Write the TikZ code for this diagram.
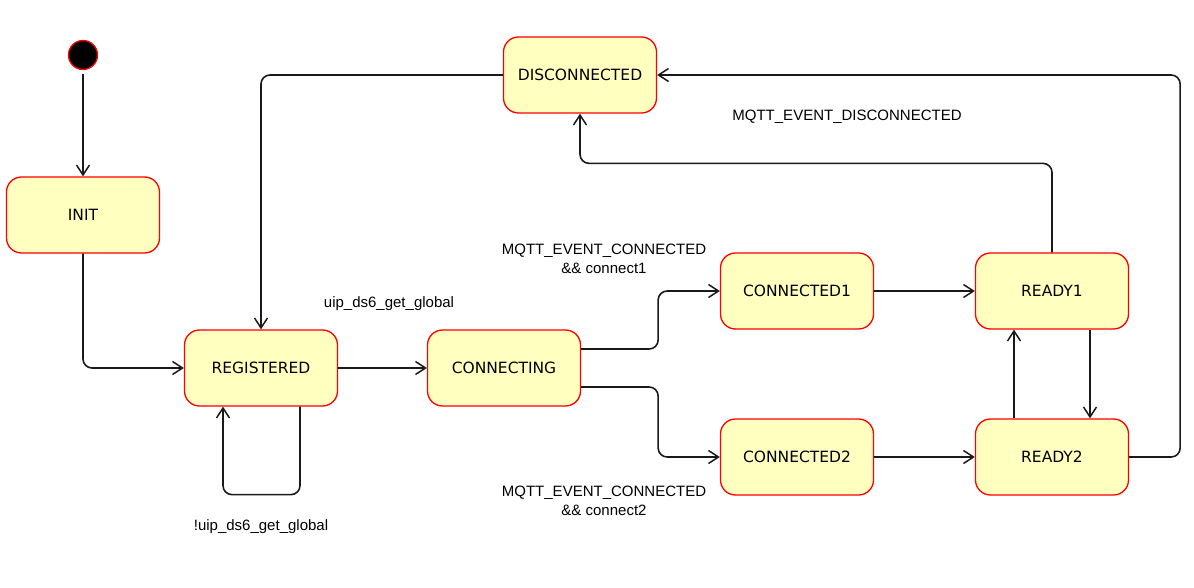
\documentclass[tikz,border=0pt]{standalone}
\usepackage{fontspec}
\setmainfont{Liberation Sans}
\newfontfamily\statefont{DejaVu Sans}
\newfontfamily\labfont{Liberation Sans}
\usetikzlibrary{arrows.meta}
\definecolor{statefill}{HTML}{FFFFC0}
\definecolor{statedraw}{HTML}{FF0000}
\definecolor{edgecol}{HTML}{1A1A1A}
\tikzset{
  stbox/.style={draw=statedraw, fill=statefill, line width=1.3pt, rounded corners=15pt,
    minimum width=153pt, minimum height=76pt, inner sep=0pt,
    font=\statefont\fontsize{15.5}{18}\selectfont},
  tr/.style={draw=edgecol, line width=1.6pt, rounded corners=9pt,
    -{Straight Barb[length=10pt,width=13pt,line width=1.5pt]}},
  lab/.style={font=\labfont\fontsize{15}{19}\selectfont, align=center, inner sep=0pt}
}
\begin{document}
\begin{tikzpicture}[x=1pt,y=-1pt]
\useasboundingbox[fill=white] (0,0) rectangle (1194,588);
\node[circle, fill=black, draw=statedraw, line width=1.3pt, minimum size=29pt, inner sep=0pt] (start) at (83,55) {};
\node[stbox] (init) at (83,215) {INIT};
\node[stbox] (reg) at (261,368) {REGISTERED};
\node[stbox] (conn) at (504,368) {CONNECTING};
\node[stbox] (c1) at (797,291) {CONNECTED1};
\node[stbox] (c2) at (797,457) {CONNECTED2};
\node[stbox] (r1) at (1052,291) {READY1};
\node[stbox] (r2) at (1052,457) {READY2};
\node[stbox] (disc) at (580,75) {DISCONNECTED};

\node[lab] (l1) at (389,304) {uip\_ds6\_get\_global};
\node[lab] (l2) at (261,527) {!uip\_ds6\_get\_global};
\node[lab] (l3) at (604,259) {MQTT\_EVENT\_CONNECTED\\\&\& connect1};
\node[lab] (l4) at (604,501) {MQTT\_EVENT\_CONNECTED\\\&\& connect2};
\node[lab] (l5) at (847,117) {MQTT\_EVENT\_DISCONNECTED};

\draw[tr, shorten <=4pt] (start) -- (init);
\draw[tr] (init.south) |- (reg.west);
\draw[tr] (reg.east) -- (conn.west);
\draw[tr] ([xshift=39pt]reg.south) -- ++(0,88) -| ([xshift=-38pt]reg.south);
\draw[tr] ([yshift=19pt]conn.east) -- ++(77,0) |- (c1.west);
\draw[tr] ([yshift=-19pt]conn.east) -- ++(77,0) |- (c2.west);
\draw[tr] (c1.east) -- (r1.west);
\draw[tr] (c2.east) -- (r2.west);
\draw[tr] ([xshift=38pt]r1.south) -- ([xshift=38pt]r2.north);
\draw[tr] ([xshift=-38pt]r2.north) -- ([xshift=-38pt]r1.south);
\draw[tr] (r1.north) -- ++(0,-89) -| (disc.south);
\draw[tr] (r2.east) -- ++(51,0) |- (disc.east);
\draw[tr] (disc.west) -| (reg.north);
\end{tikzpicture}
\end{document}
